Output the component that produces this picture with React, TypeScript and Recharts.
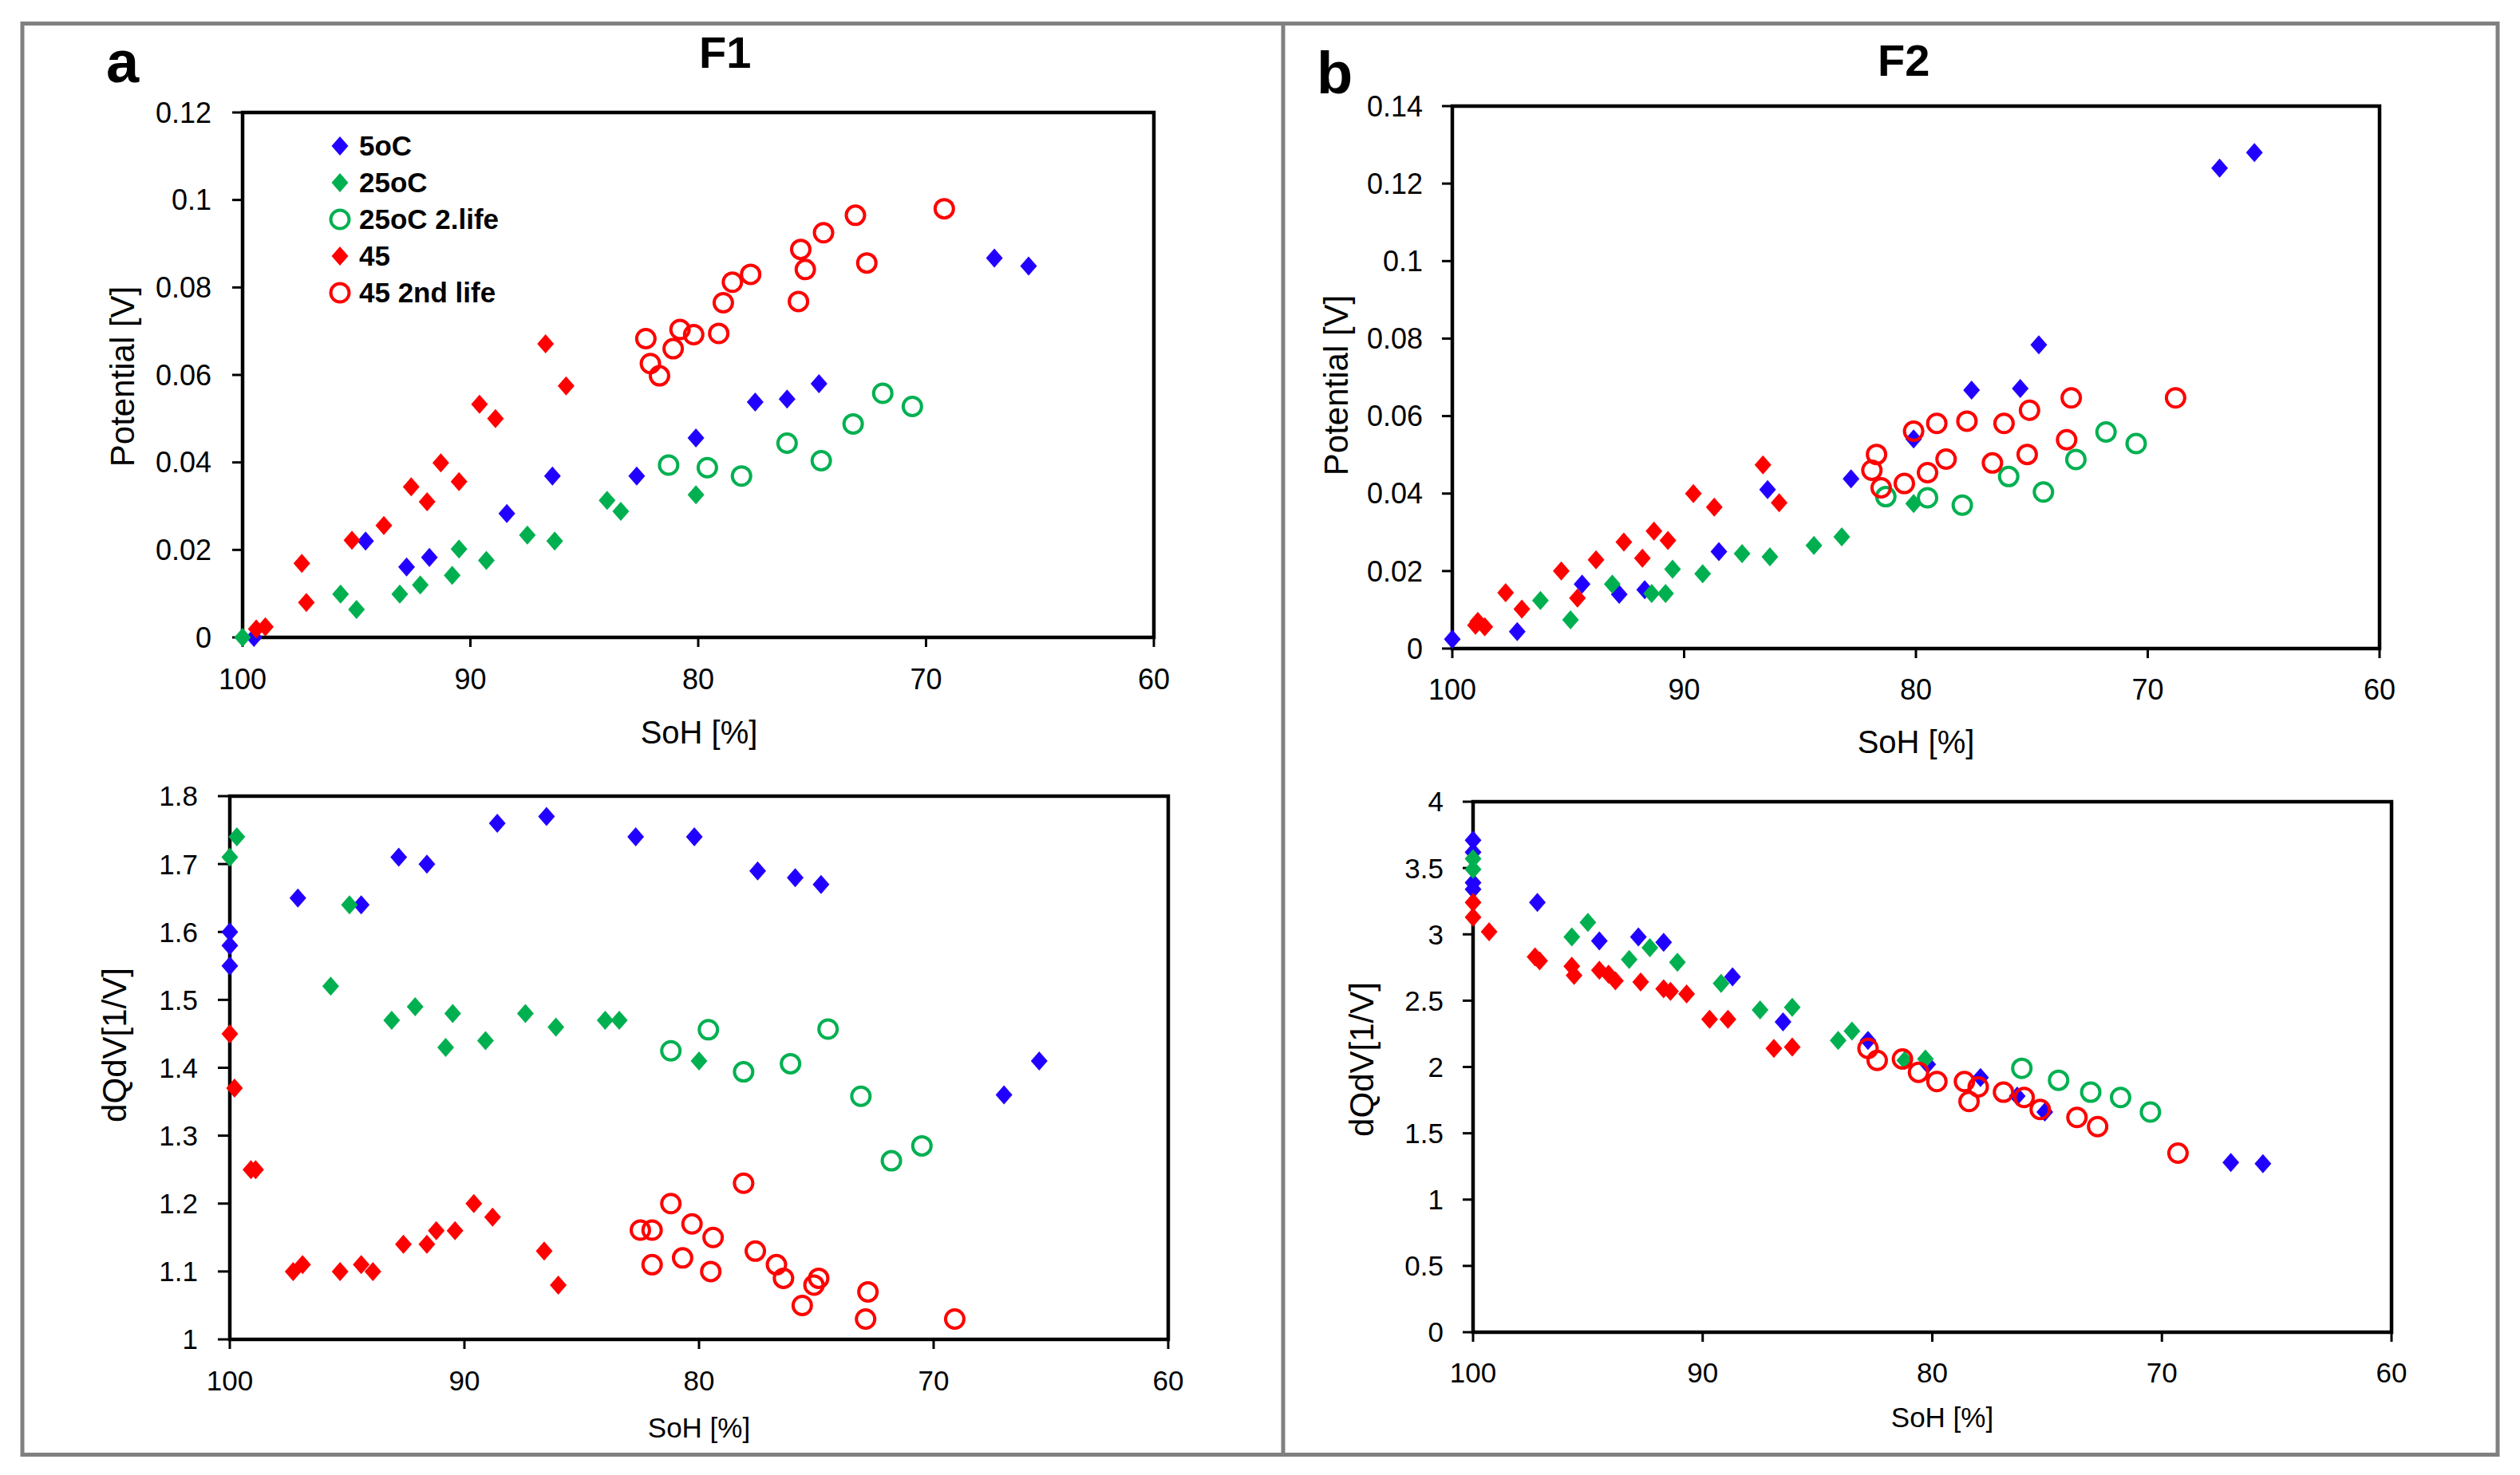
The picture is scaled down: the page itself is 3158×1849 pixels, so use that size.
import React from "react";
import { Legend, ReferenceArea, Scatter, ScatterChart, XAxis, YAxis } from "recharts";

type Pair = [number, number];

// shared axis ticks
const SOH_TICKS = [100, 90, 80, 70, 60];
const F1_POT_TICKS = [0, 0.02, 0.04, 0.06, 0.08, 0.1, 0.12];
const F1_DQDV_TICKS = [1, 1.1, 1.2, 1.3, 1.4, 1.5, 1.6, 1.7, 1.8];
const F2_POT_TICKS = [0, 0.02, 0.04, 0.06, 0.08, 0.1, 0.12, 0.14];
const F2_DQDV_TICKS = [0, 0.5, 1, 1.5, 2, 2.5, 3, 3.5, 4];

// series (same order in every panel)
const SERIES_NAMES = ["5oC", "25oC", "25oC 2.life", "45", "45 2nd life"];
const SERIES_COLORS = ["#2200ff", "#00b050", "#00b050", "#ff0000", "#ff0000"];
const SERIES_OPEN = [false, false, true, false, true];

// F1 – potential [V] vs SoH [%]
const F1_POT_5C: Pair[] = [[99.5, 0], [94.6, 0.022], [92.8, 0.0161], [91.8, 0.0183], [88.4, 0.0283], [86.4, 0.0369], [82.7, 0.0369], [80.1, 0.0456], [77.5, 0.0538], [76.1, 0.0545], [74.7, 0.058], [67.0, 0.0867], [65.5, 0.0849]];
const F1_POT_25C: Pair[] = [[100, 0], [95.7, 0.0099], [95.0, 0.0064], [93.1, 0.0099], [92.2, 0.012], [90.8, 0.0142], [90.5, 0.0202], [89.3, 0.0176], [87.5, 0.0234], [86.3, 0.022], [84.0, 0.0313], [83.4, 0.0288], [80.1, 0.0326]];
const F1_POT_25C_2L: Pair[] = [[81.3, 0.0394], [79.6, 0.0388], [78.1, 0.0369], [76.1, 0.0444], [74.6, 0.0404], [73.2, 0.0488], [71.9, 0.0558], [70.6, 0.0528]];
const F1_POT_45: Pair[] = [[99.4, 0.0019], [99.0, 0.0024], [97.4, 0.0169], [97.2, 0.008], [95.2, 0.0222], [93.8, 0.0256], [92.6, 0.0344], [91.9, 0.031], [91.3, 0.0399], [90.5, 0.0356], [89.6, 0.0533], [88.9, 0.05], [86.7, 0.0671], [85.8, 0.0575]];
const F1_POT_45_2L: Pair[] = [[82.3, 0.0683], [82.1, 0.0626], [81.7, 0.0598], [81.1, 0.066], [80.8, 0.0704], [80.2, 0.0692], [79.1, 0.0695], [78.9, 0.0765], [78.5, 0.0812], [77.7, 0.083], [75.6, 0.0768], [75.5, 0.0887], [75.3, 0.0841], [74.5, 0.0925], [73.1, 0.0965], [72.6, 0.0856], [69.2, 0.098]];

// F1 – dQdV [1/V] vs SoH [%]
const F1_DQDV_5C: Pair[] = [[100, 1.6], [100, 1.58], [100, 1.55], [97.1, 1.65], [94.4, 1.64], [92.8, 1.71], [91.6, 1.7], [88.6, 1.76], [86.5, 1.77], [82.7, 1.74], [80.2, 1.74], [77.5, 1.69], [75.9, 1.68], [74.8, 1.67], [67.0, 1.36], [65.5, 1.41]];
const F1_DQDV_25C: Pair[] = [[100, 1.71], [99.7, 1.74], [95.7, 1.52], [94.9, 1.64], [93.1, 1.47], [92.1, 1.49], [90.8, 1.43], [90.5, 1.48], [89.1, 1.44], [87.4, 1.48], [86.1, 1.46], [84.0, 1.47], [83.4, 1.47], [80.0, 1.41]];
const F1_DQDV_25C_2L: Pair[] = [[81.2, 1.425], [79.6, 1.456], [78.1, 1.394], [76.1, 1.406], [74.5, 1.457], [73.1, 1.358], [71.8, 1.263], [70.5, 1.285]];
const F1_DQDV_45: Pair[] = [[100, 1.45], [99.8, 1.37], [99.1, 1.25], [98.9, 1.25], [97.3, 1.1], [96.9, 1.11], [95.3, 1.1], [94.4, 1.11], [93.9, 1.1], [92.6, 1.14], [91.6, 1.14], [91.2, 1.16], [90.4, 1.16], [89.6, 1.2], [88.8, 1.18], [86.6, 1.13], [86.0, 1.08]];
const F1_DQDV_45_2L: Pair[] = [[82.5, 1.161], [82.0, 1.161], [82.0, 1.11], [81.2, 1.2], [80.7, 1.12], [80.3, 1.17], [79.5, 1.1], [79.4, 1.15], [78.1, 1.23], [77.6, 1.13], [76.7, 1.11], [76.4, 1.09], [75.6, 1.05], [75.1, 1.08], [74.9, 1.09], [72.9, 1.03], [72.8, 1.07], [69.1, 1.03]];

// F2 – potential [V] vs SoH [%]
const F2_POT_5C: Pair[] = [[100, 0.0024], [97.2, 0.0044], [94.4, 0.0166], [92.8, 0.014], [91.7, 0.0152], [88.5, 0.025], [86.4, 0.041], [82.8, 0.0438], [80.1, 0.0541], [77.6, 0.0667], [75.5, 0.0671], [74.7, 0.0784], [66.9, 0.124], [65.4, 0.128]];
const F2_POT_25C: Pair[] = [[96.2, 0.0124], [94.9, 0.0074], [93.1, 0.0166], [91.4, 0.0142], [90.8, 0.0142], [90.5, 0.0205], [89.2, 0.0193], [87.5, 0.0245], [86.3, 0.0237], [84.4, 0.0266], [83.2, 0.0288], [80.1, 0.0374]];
const F2_POT_25C_2L: Pair[] = [[81.3, 0.0392], [79.5, 0.0389], [78.0, 0.037], [76.0, 0.0444], [74.5, 0.0404], [73.1, 0.0488], [71.8, 0.0559], [70.5, 0.0529]];
const F2_POT_45: Pair[] = [[99.0, 0.006], [98.9, 0.007], [98.6, 0.0056], [97.7, 0.0144], [97.0, 0.0102], [95.3, 0.02], [94.6, 0.013], [93.8, 0.0229], [92.6, 0.0275], [91.8, 0.0233], [91.3, 0.0303], [90.7, 0.0279], [89.6, 0.04], [88.7, 0.0365], [86.6, 0.0474], [85.9, 0.0376]];
const F2_POT_45_2L: Pair[] = [[81.9, 0.046], [81.7, 0.0501], [81.5, 0.0415], [80.5, 0.0426], [80.1, 0.0561], [79.5, 0.0454], [79.1, 0.0581], [78.7, 0.0489], [77.8, 0.0587], [76.7, 0.0479], [76.2, 0.0581], [75.2, 0.0501], [75.1, 0.0615], [73.5, 0.0539], [73.3, 0.0647], [68.8, 0.0647]];

// F2 – dQdV [1/V] vs SoH [%]
const F2_DQDV_5C: Pair[] = [[100, 3.71], [100, 3.62], [100, 3.39], [100, 3.34], [97.2, 3.24], [94.5, 2.95], [92.8, 2.98], [91.7, 2.94], [88.7, 2.68], [86.5, 2.34], [82.8, 2.2], [80.2, 2.02], [77.9, 1.92], [76.3, 1.78], [75.1, 1.66], [67.0, 1.28], [65.6, 1.27]];
const F2_DQDV_25C: Pair[] = [[100, 3.57], [100, 3.49], [95.7, 2.98], [95.0, 3.09], [93.2, 2.81], [92.3, 2.9], [91.1, 2.79], [89.2, 2.63], [87.5, 2.43], [86.1, 2.45], [84.1, 2.2], [83.5, 2.27], [81.2, 2.05], [80.3, 2.06]];
const F2_DQDV_25C_2L: Pair[] = [[76.1, 1.99], [74.5, 1.9], [73.1, 1.81], [71.8, 1.77], [70.5, 1.66]];
const F2_DQDV_45: Pair[] = [[100, 3.24], [100, 3.13], [99.3, 3.02], [97.3, 2.83], [97.1, 2.8], [95.7, 2.76], [95.6, 2.69], [94.5, 2.73], [94.1, 2.7], [93.8, 2.65], [92.7, 2.64], [91.7, 2.59], [91.4, 2.57], [90.7, 2.55], [89.7, 2.36], [88.9, 2.36], [86.9, 2.14], [86.1, 2.15]];
const F2_DQDV_45_2L: Pair[] = [[82.8, 2.14], [82.4, 2.05], [81.3, 2.06], [80.6, 1.96], [79.8, 1.89], [78.6, 1.89], [78.4, 1.74], [78.0, 1.85], [76.9, 1.81], [76.0, 1.77], [75.3, 1.68], [73.7, 1.62], [72.8, 1.55], [69.3, 1.35]];

const FONT = '"Liberation Sans", Arial, sans-serif';

function Marker({ cx, cy, idx }: { cx: number; cy: number; idx: number }) {
  const color = SERIES_COLORS[idx];
  if (SERIES_OPEN[idx]) {
    return <circle cx={cx} cy={cy} r={11.5} fill="none" stroke={color} strokeWidth={4} />;
  }
  return (
    <path
      d={`M${cx},${cy - 12}L${cx + 10.5},${cy}L${cx},${cy + 12}L${cx - 10.5},${cy}Z`}
      fill={color}
    />
  );
}

const toPoints = (pairs: Pair[]) => pairs.map(([x, y]) => ({ x, y }));

// legend keeps the series order (recharts sorts by value otherwise)
function LegendContent(props: any) {
  const payload = [...((props.payload ?? []) as { value: string }[])].sort(
    (a, b) => SERIES_NAMES.indexOf(String(a.value)) - SERIES_NAMES.indexOf(String(b.value))
  );
  return (
    <div style={{ fontFamily: FONT }}>
      {payload.map((entry) => {
        const idx = SERIES_NAMES.indexOf(String(entry.value));
        return (
          <div key={entry.value} style={{ display: "flex", alignItems: "center", height: 46 }}>
            <svg width={30} height={46}>
              <Marker cx={15} cy={23} idx={idx} />
            </svg>
            <span style={{ marginLeft: 9, fontWeight: 700, fontSize: 35, color: "#000", lineHeight: "46px" }}>
              {entry.value}
            </span>
          </div>
        );
      })}
    </div>
  );
}

interface PanelProps {
  box: { left: number; top: number; width: number; height: number };
  plot: { l: number; t: number; r: number; b: number };
  series: Pair[][];
  yTicks: number[];
  yTitle: string;
  yTitlePos: [number, number];
  xTitlePos: [number, number];
  xTitleSize: number;
  tickSize: number;
  yTick: [number, number];
  xTickMargin: number;
  legend?: { left: number; top: number };
}

function Panel({ box, plot, series, yTicks, yTitle, yTitlePos, xTitlePos, xTitleSize, tickSize, yTick, xTickMargin, legend }: PanelProps) {
  const yDomain: [number, number] = [yTicks[0], yTicks[yTicks.length - 1]];
  const yW = plot.l - box.left;
  const xH = box.top + box.height - plot.b;
  const tyx = yTitlePos[0] - box.left;
  const tyy = yTitlePos[1] - box.top;
  const txx = xTitlePos[0] - box.left;
  const txy = xTitlePos[1] - box.top;
  return (
    <div style={{ position: "absolute", left: box.left, top: box.top }}>
      <ScatterChart
        width={box.width}
        height={box.height}
        margin={{ top: plot.t - box.top, right: box.left + box.width - plot.r, bottom: 0, left: 0 }}
      >
        <XAxis
          type="number"
          dataKey="x"
          domain={[60, 100]}
          reversed
          ticks={SOH_TICKS}
          interval={0}
          height={xH}
          tick={{ fill: "#000", fontSize: tickSize }}
          tickSize={12}
          tickMargin={xTickMargin}
          axisLine={{ stroke: "#000", strokeWidth: 4 }}
          tickLine={{ stroke: "#000", strokeWidth: 3 }}
          label={() => (
            <text x={txx} y={txy} textAnchor="middle" fontSize={xTitleSize} fill="#000" fontFamily={FONT}>
              SoH [%]
            </text>
          )}
        />
        <YAxis
          type="number"
          dataKey="y"
          domain={yDomain}
          ticks={yTicks}
          interval={0}
          width={yW}
          tick={{ fill: "#000", fontSize: tickSize }}
          tickFormatter={(v: number) => String(v)}
          tickSize={yTick[0]}
          tickMargin={yTick[1]}
          axisLine={{ stroke: "#000", strokeWidth: 4 }}
          tickLine={{ stroke: "#000", strokeWidth: 3 }}
          label={() => (
            <text
              x={tyx}
              y={tyy}
              transform={`rotate(-90 ${tyx} ${tyy})`}
              textAnchor="middle"
              dominantBaseline="central"
              fontSize={42}
              fill="#000"
              fontFamily={FONT}
            >
              {yTitle}
            </text>
          )}
        />
        <ReferenceArea
          x1={60}
          x2={100}
          y1={yDomain[0]}
          y2={yDomain[1]}
          fill="none"
          stroke="#000"
          strokeWidth={4.5}
          ifOverflow="visible"
        />
        {legend && (
          <Legend
            layout="vertical"
            align="center"
            verticalAlign="middle"
            wrapperStyle={{ left: legend.left - box.left, top: legend.top - box.top, width: 320, height: 240 }}
            content={LegendContent}
          />
        )}
        {series.map((pairs, i) => (
          <Scatter
            key={SERIES_NAMES[i]}
            name={SERIES_NAMES[i]}
            data={toPoints(pairs)}
            fill={SERIES_COLORS[i]}
            isAnimationActive={false}
            shape={(p: any) => <Marker cx={p.cx} cy={p.cy} idx={i} />}
          />
        ))}
      </ScatterChart>
    </div>
  );
}

export default function App() {
  return (
    <div
      style={{
        position: "absolute",
        left: 0,
        top: 0,
        width: 3158,
        height: 1849,
        background: "#fff",
        fontFamily: FONT,
        overflow: "hidden",
      }}
    >
      <svg width={3158} height={1849} style={{ position: "absolute", left: 0, top: 0 }}>
        <rect x={28} y={29.5} width={3102} height={1794} fill="none" stroke="#808080" strokeWidth={5} />
        <line x1={1608} y1={29.5} x2={1608} y2={1823.5} stroke="#808080" strokeWidth={5} />
        <text x={133} y={103} fontSize={74} fontWeight={700} fill="#000" fontFamily={FONT}>a</text>
        <text x={876} y={85} fontSize={56} fontWeight={700} fill="#000" fontFamily={FONT}>F1</text>
        <text x={1650} y={117} fontSize={74} fontWeight={700} fill="#000" fontFamily={FONT}>b</text>
        <text x={2353} y={95} fontSize={56} fontWeight={700} fill="#000" fontFamily={FONT}>F2</text>
      </svg>

      <Panel
        box={{ left: 100, top: 110, width: 1400, height: 850 }}
        plot={{ l: 304, t: 141, r: 1446, b: 799 }}
        series={[F1_POT_5C, F1_POT_25C, F1_POT_25C_2L, F1_POT_45, F1_POT_45_2L]}
        yTicks={F1_POT_TICKS}
        yTitle="Potential [V]"
        yTitlePos={[153, 472]}
        xTitlePos={[876, 932]}
        xTitleSize={40}
        tickSize={36}
        yTick={[13, 26]}
        xTickMargin={27}
        legend={{ left: 411, top: 160 }}
      />
      <Panel
        box={{ left: 100, top: 970, width: 1400, height: 860 }}
        plot={{ l: 288, t: 998, r: 1464, b: 1679 }}
        series={[F1_DQDV_5C, F1_DQDV_25C, F1_DQDV_25C_2L, F1_DQDV_45, F1_DQDV_45_2L]}
        yTicks={F1_DQDV_TICKS}
        yTitle="dQdV[1/V]"
        yTitlePos={[143, 1310]}
        xTitlePos={[876, 1802]}
        xTitleSize={35}
        tickSize={35}
        yTick={[15, 25]}
        xTickMargin={27}
      />
      <Panel
        box={{ left: 1620, top: 110, width: 1420, height: 850 }}
        plot={{ l: 1820, t: 133, r: 2982, b: 813 }}
        series={[F2_POT_5C, F2_POT_25C, F2_POT_25C_2L, F2_POT_45, F2_POT_45_2L]}
        yTicks={F2_POT_TICKS}
        yTitle="Potential [V]"
        yTitlePos={[1674, 483]}
        xTitlePos={[2401, 944]}
        xTitleSize={40}
        tickSize={36}
        yTick={[13, 24]}
        xTickMargin={26}
      />
      <Panel
        box={{ left: 1620, top: 975, width: 1420, height: 850 }}
        plot={{ l: 1846, t: 1005, r: 2997, b: 1670 }}
        series={[F2_DQDV_5C, F2_DQDV_25C, F2_DQDV_25C_2L, F2_DQDV_45, F2_DQDV_45_2L]}
        yTicks={F2_DQDV_TICKS}
        yTitle="dQdV[1/V]"
        yTitlePos={[1706, 1328]}
        xTitlePos={[2434, 1789]}
        xTitleSize={35}
        tickSize={35}
        yTick={[13, 24]}
        xTickMargin={26}
      />
    </div>
  );
}
